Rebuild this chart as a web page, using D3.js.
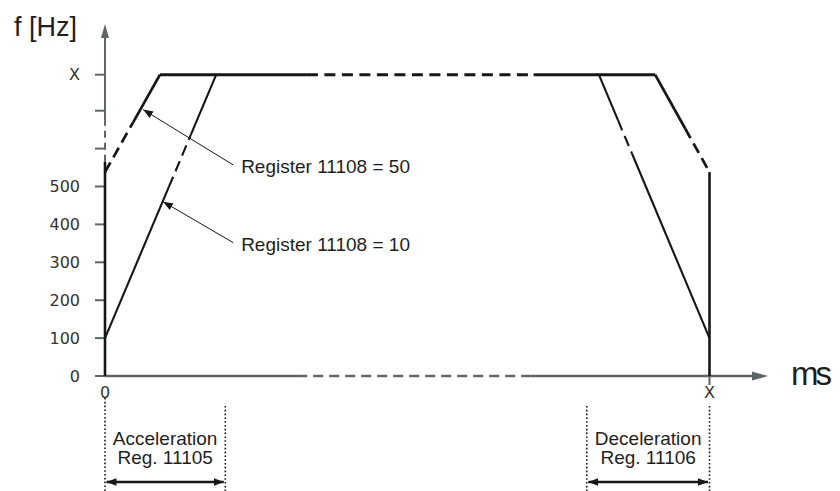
<!DOCTYPE html>
<html>
<head>
<meta charset="utf-8">
<title>Acceleration / deceleration ramp</title>
<script src="https://cdnjs.cloudflare.com/ajax/libs/d3/7.8.5/d3.min.js"></script>
<style>
  body { margin: 0; background: #fff; }
  svg { display: block; }
  .lbl { font-family: "Liberation Sans", Arial, sans-serif; fill: #1e1e1e; }
  .tick { font-family: "DejaVu Sans", sans-serif; font-size: 16px; fill: #333; }
</style>
</head>
<body>
<svg id="svg" width="840" height="491"></svg>
<script>
// ---- data (t: 0..100 = X ms, f in Hz, X Hz = fMax) ----
const fMax = 795
const yTicks = [0, 100, 200, 300, 400, 500, 600, 700, fMax]
const yLabels = ['0', '100', '200', '300', '400', '500', '', '', 'X']
const xTicks = [0, 100]
const xLabels = ['0', 'X']

// ramps: [t0, f0, t1, f1, dashFrom, dashTo]
const ramps50 = [[0, 538, 9.1, fMax, 538, 670], [91.0, fMax, 100, 538, 538, 653]]
const ramps10 = [[0, 100, 18.4, fMax, 499, 636], [81.7, fMax, 100, 100, 587, 675]]
const plateau = [9.1, 91.0]
const plateauDash = [33.4, 70.9]
const startJump = [0, 565]     // black part on the f axis
const endJump = [0, 538]       // vertical drop at t = X
const xAxisDash = [31.8, 70.4]
const yAxisDash = [565, 675]

// annotations: tip [t,f], tail [t,f], label
const notes = [
  {tip: [6.3, 703], tail: [21.2, 557], text: 'Register 11108 = 50'},
  {tip: [9.6, 460], tail: [21.2, 352], text: 'Register 11108 = 10'}
]
const spans = [
  {from: 0, to: 19.9, l1: 'Acceleration', l2: 'Reg. 11105'},
  {from: 79.7, to: 100, l1: 'Deceleration', l2: 'Reg. 11106'}
]

const svg = d3.select('svg')
const x = d3.scaleLinear().domain([0, 100]).range([105, 709.5])
const y = d3.scaleLinear().domain([0, 500]).range([376, 186.5])
const axisCol = '#5d6569'
const ink = '#161616'

const defs = svg.append('defs')
function marker(id, col) {
  defs.append('marker').attr('id', id)
    .attr('viewBox', '0 0 10 10').attr('refX', 10).attr('refY', 5)
    .attr('markerWidth', 10).attr('markerHeight', 10)
    .attr('markerUnits', 'userSpaceOnUse').attr('orient', 'auto-start-reverse')
    .append('path').attr('d', 'M0,1.2 L10,5 L0,8.8 Z').attr('fill', col)
}
marker('arr', ink)

function line(x1, y1, x2, y2, col, w, dash) {
  return svg.append('line').attr('x1', x1).attr('y1', y1).attr('x2', x2).attr('y2', y2)
    .attr('stroke', col).attr('stroke-width', w).attr('stroke-dasharray', dash || null)
}

// ---- axes ----
const x0 = x(0), y0 = y(0)
// y axis
line(x0, y0, x0, y(yAxisDash[0]), axisCol, 2)
line(x0, y(yAxisDash[0]), x0, y(yAxisDash[1]), axisCol, 2, '7,5')
line(x0, y(yAxisDash[1]), x0, 36, axisCol, 2)
svg.append('path').attr('d', `M${x0},24 L${x0 - 4},38 L${x0 + 4},38 Z`).attr('fill', axisCol)
// x axis
line(x0, y0, x(xAxisDash[0]), y0, axisCol, 2.4)
line(x(xAxisDash[0]), y0, x(xAxisDash[1]), y0, axisCol, 2.4, '10,6')
line(x(xAxisDash[1]), y0, 754, y0, axisCol, 2.4)
svg.append('path').attr('d', `M768,${y0} L752,${y0 - 4.5} L752,${y0 + 4.5} Z`).attr('fill', axisCol)

svg.selectAll('.yt').data(yTicks).join('line').attr('class', 'yt')
  .attr('x1', x0 - 10).attr('x2', x0).attr('y1', d => y(d)).attr('y2', d => y(d))
  .attr('stroke', axisCol).attr('stroke-width', 2)
svg.selectAll('.yl').data(yTicks).join('text').attr('class', 'tick yl')
  .attr('x', 80).attr('y', d => y(d)).attr('dy', '0.36em').attr('text-anchor', 'end')
  .text((d, i) => yLabels[i])
line(x(100), y0, x(100), y0 + 9, axisCol, 2)
svg.selectAll('.xl').data(xTicks).join('text').attr('class', 'tick xl')
  .attr('x', d => x(d)).attr('y', 398).attr('text-anchor', 'middle')
  .text((d, i) => xLabels[i])

svg.append('text').attr('class', 'lbl').attr('x', 14).attr('y', 36)
  .attr('font-size', 27).text('f [Hz]')
svg.append('text').attr('class', 'lbl').attr('x', 791).attr('y', 385)
  .attr('font-size', 33).attr('textLength', 41).text('ms')

// ---- curves ----
function ramp(r, w) {
  const [t0, f0, t1, f1, da, db] = r
  const at = f => t0 + (f - f0) / (f1 - f0) * (t1 - t0)
  const pts = [f0, da, db, f1].sort((a, b) => (f1 > f0 ? a - b : b - a))
  for (let i = 0; i < 3; i++) {
    const fa = pts[i], fb = pts[i + 1]
    if (fa === fb) continue
    const dashed = Math.min(fa, fb) >= Math.min(da, db) && Math.max(fa, fb) <= Math.max(da, db)
    line(x(at(fa)), y(fa), x(at(fb)), y(fb), ink, w, dashed ? '11,6' : null)
  }
}
ramps50.forEach(r => ramp(r, 2.7))
ramps10.forEach(r => ramp(r, 2.1))

line(x(plateau[0]), y(fMax), x(plateauDash[0]), y(fMax), ink, 3)
line(x(plateauDash[0]), y(fMax), x(plateauDash[1]), y(fMax), ink, 3, '11,6.5')
line(x(plateauDash[1]), y(fMax), x(plateau[1]), y(fMax), ink, 3)

line(x0, y(startJump[0]), x0, y(startJump[1]), ink, 2.6)
line(x(100), y(endJump[0]), x(100), y(endJump[1]), ink, 2.6)

// ---- annotations ----
notes.forEach(n => {
  line(x(n.tail[0]), y(n.tail[1]), x(n.tip[0]), y(n.tip[1]), ink, 1)
    .attr('marker-end', 'url(#arr)')
  svg.append('text').attr('class', 'lbl').attr('font-size', 19)
    .attr('x', x(n.tail[0]) + 8).attr('y', y(n.tail[1]) + 8).text(n.text)
})

spans.forEach(s => {
  const a = x(s.from), b = x(s.to), c = (a + b) / 2
  line(a, s.from === 0 ? 398 : 406, a, 491, ink, 1.6, '1.6,2.2')
  line(b, 406, b, 491, ink, 1.6, '1.6,2.2')
  line(a + 1.5, 482, b - 1.5, 482, ink, 2.6)
    .attr('marker-end', 'url(#arr)').attr('marker-start', 'url(#arr)')
  svg.append('text').attr('class', 'lbl').attr('font-size', 19)
    .attr('x', c).attr('y', 445).attr('text-anchor', 'middle').text(s.l1)
  svg.append('text').attr('class', 'lbl').attr('font-size', 19)
    .attr('x', c).attr('y', 464).attr('text-anchor', 'middle').text(s.l2)
})
</script>
</body>
</html>
